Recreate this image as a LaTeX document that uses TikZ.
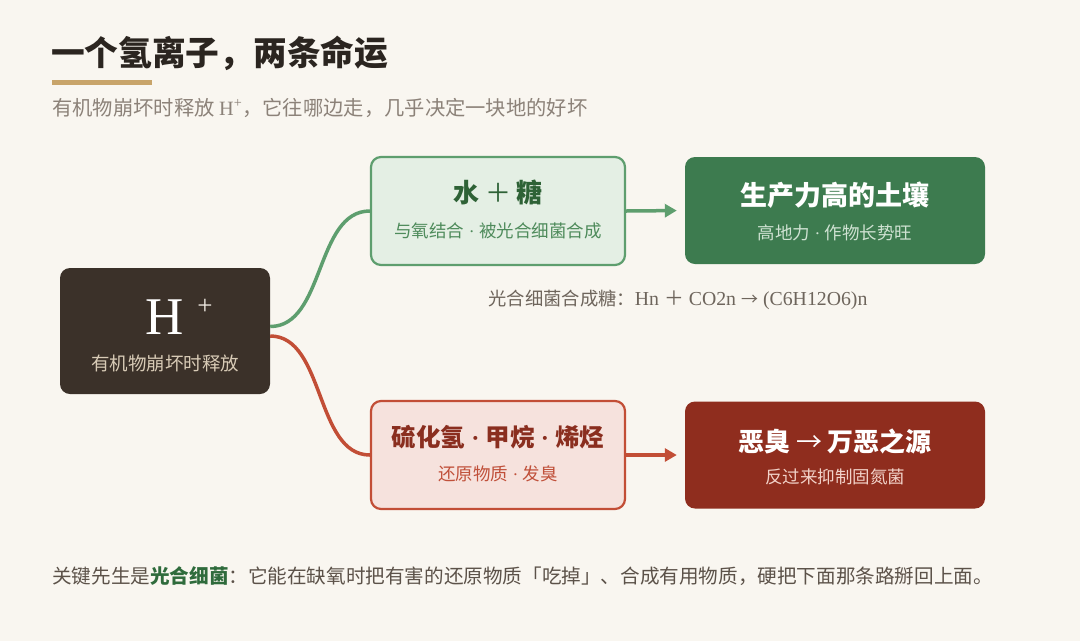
\documentclass[tikz,border=0pt]{standalone}
\usepackage{fontspec}
\setmainfont{Noto Sans CJK SC}
\newfontfamily\lat{Liberation Serif}
\usetikzlibrary{arrows.meta}

\definecolor{bgc}{HTML}{F9F6F0}
\definecolor{titlec}{HTML}{2B2520}
\definecolor{goldc}{HTML}{C8A46A}
\definecolor{subc}{HTML}{8C8279}
\definecolor{hboxc}{HTML}{3B3129}
\definecolor{hsubc}{HTML}{D8CBB6}
\definecolor{gline}{HTML}{5E9E6E}
\definecolor{gfill}{HTML}{E4EFE4}
\definecolor{gtitle}{HTML}{2E6236}
\definecolor{gsub}{HTML}{4E8B5B}
\definecolor{gdark}{HTML}{3D7B4F}
\definecolor{gdsub}{HTML}{CFE2D2}
\definecolor{formc}{HTML}{6E655C}
\definecolor{rline}{HTML}{C24E36}
\definecolor{rfill}{HTML}{F6E2DD}
\definecolor{rtitle}{HTML}{8A2E1F}
\definecolor{rsub}{HTML}{C0503A}
\definecolor{rdark}{HTML}{8F2D1E}
\definecolor{rdsub}{HTML}{F2D2C9}
\definecolor{bodyc}{HTML}{5C5249}
\definecolor{keyc}{HTML}{2F6B3C}

\newcommand{\fs}[1]{\fontsize{#1}{#1}\selectfont}
% narrow separator dot between phrases
\newcommand{\sep}{{\lat\ \textperiodcentered\ }}

\begin{document}
\begin{tikzpicture}[x=1pt,y=-1pt,
  card/.style={rounded corners=10pt, minimum width=#1, inner sep=0pt},
  lightcard/.style={card=254pt, minimum height=108pt, line width=2.2pt},
  darkcard/.style={card=300pt, minimum height=107pt},
  txt/.style={inner sep=0pt, anchor=center},
  flow/.style={line width=3.5pt, -{Triangle[length=12pt,width=13pt]}, shorten >=8pt},
  branch/.style={line width=3.5pt}
]
% page
\fill[bgc] (0,0) rectangle (1080,641);
\useasboundingbox (0,0) rectangle (1080,641);

% heading
\node[txt, anchor=west, text=titlec] (title) at (51,53) {\fs{33.7}\bfseries 一个氢离子，两条命运};
\fill[goldc] (52,80) rectangle (152,85);
\node[txt, anchor=west, text=subc] (subtitle) at (52,108) {\fs{20.3}有机物崩坏时释放 {\lat H\textsuperscript{+}}，它往哪边走，几乎决定一块地的好坏};

% source card
\node[card=210pt, minimum height=126pt, fill=hboxc] (hbox) at (165,331) {};
\node[txt, text=white] (hsym) at (165,317) {\lat\fs{53}H};
\node[txt, text=hsubc!40!white] (hplus) at (205,307) {\lat\fs{27}+};
\node[txt, text=hsubc] (hsub) at (165,363) {\fs{18.5}有机物崩坏时释放};

% upper path
\node[lightcard, fill=gfill, draw=gline] (g1) at (498,211) {};
\node[txt, text=gtitle] (g1t) at (498,192) {\fs{26}\bfseries 水 {\mdseries ＋} 糖};
\node[txt, text=gsub] (g1s) at (498,231) {\fs{17.5}与氧结合\sep 被光合细菌合成};
\node[darkcard, fill=gdark] (g2) at (835,210.5) {};
\node[txt, text=white] (g2t) at (835,195) {\fs{27}\bfseries 生产力高的土壤};
\node[txt, text=gdsub] (g2s) at (835,233) {\fs{17.5}高地力\sep 作物长势旺};
\node[txt, text=formc] (formula) at (678,300) {\fs{18.3}光合细菌合成糖：{\fs{19.8}\lat Hn {\rmfamily ＋} CO2n {\rmfamily\fs{17}→} (C6H12O6)n}};

% lower path
\node[lightcard, fill=rfill, draw=rline] (r1) at (498,455) {};
\node[txt, text=rtitle] (r1t) at (498,437) {\fs{24.5}\bfseries 硫化氢\sep 甲烷\sep 烯烃};
\node[txt, text=rsub] (r1s) at (498,474) {\fs{17.5}还原物质\sep 发臭};
\node[darkcard, fill=rdark] (r2) at (835,455) {};
\node[txt, text=white] (r2t) at (835,441) {\fs{26}\bfseries 恶臭 {\mdseries →} 万恶之源};
\node[txt, text=rdsub] (r2s) at (835,477) {\fs{17.5}反过来抑制固氮菌};

% branches out of the source card
\coordinate (gstart) at ([yshift=4.5pt]hbox.east);
\coordinate (rstart) at ([yshift=-5pt]hbox.east);
\draw[branch, gline] (gstart) .. controls (325,326.5) and (315,211) .. (g1.west);
\draw[branch, rline] (rstart) .. controls (325,336) and (315,455) .. (r1.west);

% outcome arrows
\draw[flow, gline] (g1.east) -- (g2.west);
\draw[flow, rline] (r1.east) -- (r2.west);

% closing note
\node[txt, anchor=west, text=bodyc] (note) at (52,576) {\fs{19.6}关键先生是{\bfseries\color{keyc}光合细菌}：它能在缺氧时把有害的还原物质「吃掉」、合成有用物质，硬把下面那条路掰回上面。};
\end{tikzpicture}
\end{document}
